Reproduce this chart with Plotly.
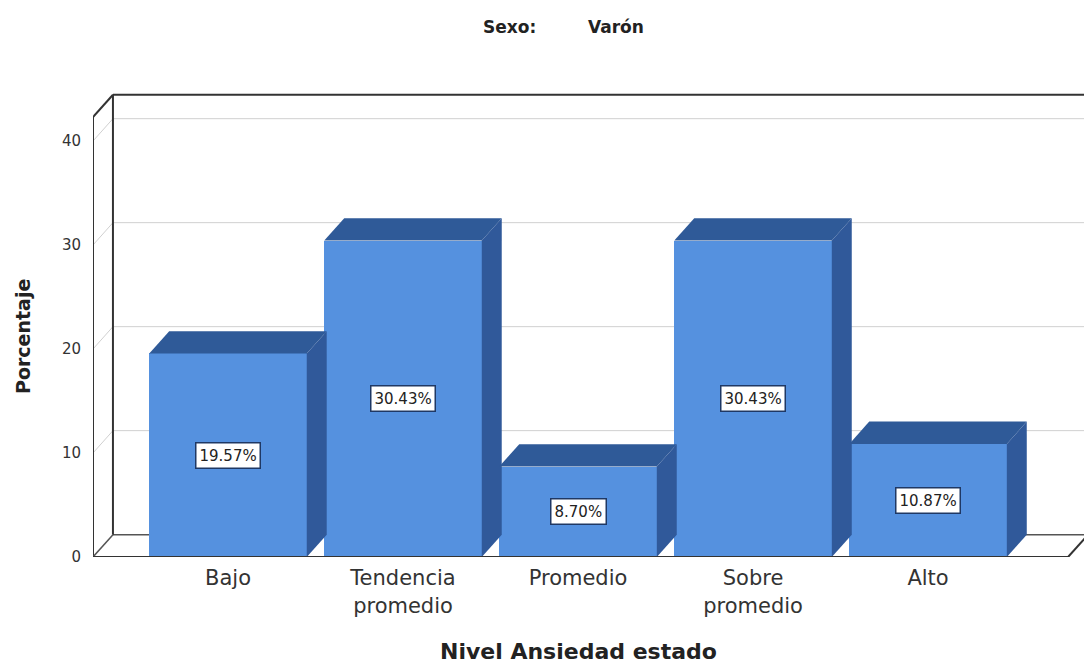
import plotly.graph_objects as go

# ---- data ----
categories = ["Bajo", "Tendencia<br>promedio", "Promedio", "Sobre<br>promedio", "Alto"]
values = [19.57, 30.43, 8.70, 30.43, 10.87]
value_labels = ["19.57%", "30.43%", "8.70%", "30.43%", "10.87%"]
y_ticks = [0, 10, 20, 30, 40]

# ---- style / geometry constants ----
FRONT = "#5591DF"
TOP = "#2F5A98"
SIDE = "#30599A"
BAR_W = 0.9
DX = 0.114     # depth offset in category units
DY = 2.15      # depth offset in value units
X_MIN, X_MAX = -0.7714, 4.891
Y_TOP = 42.3
Y_RANGE = [0, 45.87]
FLOOR_END = 4.8

W, H = 1084, 664
ML, MR, MT, MB = 93, 0, 80, 107
PW, PH = W - ML - MR, H - MT - MB


def px_to_paper(px, py):
    return (px - ML) / PW, (H - MB - py) / PH


xs = list(range(len(categories)))
fig = go.Figure()

fig.add_trace(go.Bar(x=xs, y=values, width=BAR_W, marker=dict(color=FRONT, line=dict(width=0)),
                     hoverinfo="skip", showlegend=False))

for x, v in zip(xs, values):
    xl, xr = x - BAR_W / 2, x + BAR_W / 2
    fig.add_trace(go.Scatter(x=[xl, xl + DX, xr + DX, xr, xl], y=[v, v + DY, v + DY, v, v],
                             fill="toself", fillcolor=TOP, mode="lines", line=dict(width=0),
                             hoverinfo="skip", showlegend=False))
    fig.add_trace(go.Scatter(x=[xr, xr, xr + DX, xr + DX, xr], y=[0, v, v + DY, DY, 0],
                             fill="toself", fillcolor=SIDE, mode="lines", line=dict(width=0),
                             hoverinfo="skip", showlegend=False))

shapes = []
dark = dict(color="#333333", width=2)
grid = dict(color="#D0D0D0", width=1)
bx = X_MIN + DX
for t in y_ticks[1:]:
    shapes.append(dict(type="line", x0=bx, x1=X_MAX, y0=t + DY, y1=t + DY, line=grid, layer="below"))
    shapes.append(dict(type="line", x0=X_MIN, x1=bx, y0=t, y1=t + DY, line=grid, layer="below"))
shapes.append(dict(type="line", x0=bx, x1=X_MAX, y0=DY, y1=DY, line=dict(color="#555555", width=1.5), layer="below"))
shapes.append(dict(type="line", x0=bx, x1=bx, y0=DY, y1=Y_TOP + DY, line=dark, layer="below"))
shapes.append(dict(type="line", x0=bx, x1=X_MAX, y0=Y_TOP + DY, y1=Y_TOP + DY, line=dark, layer="below"))
shapes.append(dict(type="line", x0=X_MIN, x1=X_MIN, y0=0, y1=Y_TOP, line=dark, layer="below"))
shapes.append(dict(type="line", x0=X_MIN, x1=bx, y0=Y_TOP, y1=Y_TOP + DY, line=dark, layer="below"))
shapes.append(dict(type="line", x0=X_MIN, x1=bx, y0=0, y1=DY, line=dict(color="#555555", width=1.5), layer="below"))
shapes.append(dict(type="line", x0=X_MIN, x1=FLOOR_END, y0=0, y1=0, line=dark, layer="above"))
shapes.append(dict(type="line", x0=FLOOR_END, x1=FLOOR_END + DX, y0=0, y1=DY, line=dark, layer="above"))

WIDE = "DejaVu Sans"
annotations = []
for x, v, lab in zip(xs, values, value_labels):
    annotations.append(dict(x=x, y=v / 2, text=lab, showarrow=False, bgcolor="white",
                            bordercolor="#1F3864", borderwidth=1.5, borderpad=3,
                            font=dict(family=WIDE, size=15, color="#222222")))

sx, sy = px_to_paper(509, 27)
annotations.append(dict(xref="paper", yref="paper", x=sx, y=sy, text="<b>Sexo:</b>", showarrow=False,
                        font=dict(family=WIDE, size=17, color="#222222"), xanchor="center", yanchor="middle"))
vx, vy = px_to_paper(616, 27)
annotations.append(dict(xref="paper", yref="paper", x=vx, y=vy, text="<b>Varón</b>", showarrow=False,
                        font=dict(family=WIDE, size=17, color="#222222"), xanchor="center", yanchor="middle"))
tx, ty = px_to_paper(578, 651)
annotations.append(dict(xref="paper", yref="paper", x=tx, y=ty, xanchor="center", yanchor="middle",
                        text="<b>Nivel Ansiedad estado</b>", showarrow=False,
                        font=dict(family=WIDE, size=22, color="#222222")))
yx, yy = px_to_paper(23, 337)
annotations.append(dict(xref="paper", yref="paper", x=yx, y=yy, textangle=-90,
                        xanchor="center", yanchor="middle", text="<b>Porcentaje</b>", showarrow=False,
                        font=dict(family=WIDE, size=19, color="#222222")))

fig.update_layout(
    width=W, height=H,
    margin=dict(l=ML, r=MR, t=MT, b=MB),
    paper_bgcolor="white", plot_bgcolor="white",
    shapes=shapes, annotations=annotations,
    xaxis=dict(range=[X_MIN, X_MAX], tickvals=xs, ticktext=categories, showgrid=False,
               zeroline=False, showline=False, ticks="outside", ticklen=2, tickcolor="white",
               tickfont=dict(family=WIDE, size=21, color="#333333")),
    yaxis=dict(range=Y_RANGE, tickvals=y_ticks, showgrid=False, zeroline=False, showline=False,
               ticks="outside", ticklen=8, tickcolor="white",
               tickfont=dict(family=WIDE, size=15, color="#333333")),
    bargap=0,
)

fig.write_html("out.html")
